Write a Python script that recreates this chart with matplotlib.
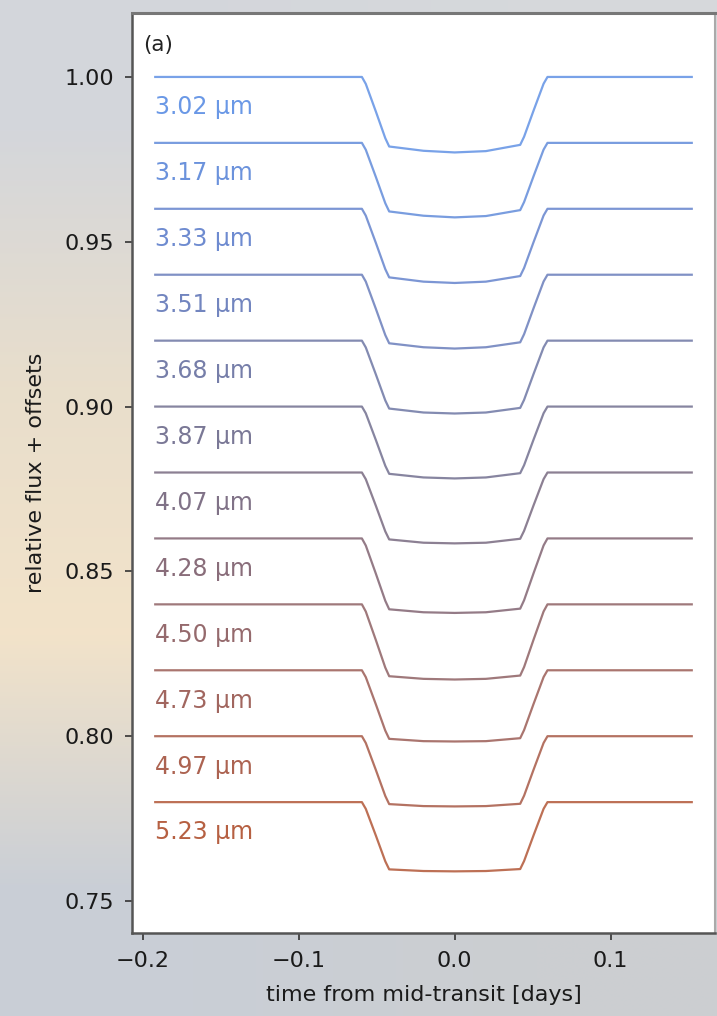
import numpy as np
import matplotlib
matplotlib.use("Agg")
import matplotlib.pyplot as plt

# Data
wavelengths = ["3.02", "3.17", "3.33", "3.51", "3.68", "3.87",
               "4.07", "4.28", "4.50", "4.73", "4.97", "5.23"]
offsets = [1.00, 0.98, 0.96, 0.94, 0.92, 0.90, 0.88, 0.86, 0.84, 0.82, 0.80, 0.78]

# out-of-transit span [days]
t_start = -0.192
t_end = 0.152

# ingress shape: time and fraction of the 2nd-contact depth
ingress_t = [-0.0595, -0.0570, -0.0505, -0.0445]
ingress_frac = [0.0, 0.10, 0.50, 0.88]

# in-transit depths at these times, per wavelength
bottom_t = [-0.042, -0.020, 0.000, 0.020, 0.042]
depths = [
    [0.0211, 0.0224, 0.0229, 0.0225, 0.0206],
    [0.0208, 0.0221, 0.0226, 0.0222, 0.0204],
    [0.0208, 0.0221, 0.0225, 0.0221, 0.0204],
    [0.0208, 0.0220, 0.0224, 0.0220, 0.0205],
    [0.0206, 0.0218, 0.0221, 0.0218, 0.0204],
    [0.0204, 0.0215, 0.0218, 0.0215, 0.0202],
    [0.0203, 0.0213, 0.0215, 0.0213, 0.0201],
    [0.0215, 0.0224, 0.0226, 0.0224, 0.0213],
    [0.0218, 0.0226, 0.0228, 0.0226, 0.0216],
    [0.0208, 0.0215, 0.0216, 0.0215, 0.0206],
    [0.0206, 0.0212, 0.0213, 0.0212, 0.0205],
    [0.0204, 0.0209, 0.0210, 0.0209, 0.0203],
]

colors = ["#6a98e6", "#6b92dc", "#6e8bd0", "#7285bf", "#767ea9", "#7a7896",
          "#807287", "#896d7a", "#956a6d", "#a1665f", "#ac6351", "#b66042"]

plt.rcParams['font.family'] = ['DejaVu Sans']

fig = plt.figure(figsize=(7.17, 10.16), dpi=100)

# textured backdrop behind the panel (soft gradient)
bg = fig.add_axes([0, 0, 1, 1], zorder=-10)
grid = np.array([
    [[0.83, 0.84, 0.86], [0.84, 0.85, 0.86]],
    [[0.91, 0.87, 0.80], [0.90, 0.87, 0.82]],
    [[0.95, 0.89, 0.79], [0.90, 0.87, 0.82]],
    [[0.79, 0.81, 0.84], [0.80, 0.81, 0.82]],
])
bg.imshow(grid, aspect='auto', interpolation='bilinear', extent=[0, 1, 0, 1])
bg.axis('off')

ax = fig.add_axes([0.1841, 0.0817, 0.9972 - 0.1841, 0.9872 - 0.0817])
ax.set_facecolor('white')

for i in range(len(wavelengths)):
    d = depths[i]
    t = [t_start]
    f = [0.0]
    # ingress
    for k in range(len(ingress_t)):
        t.append(ingress_t[k])
        f.append(ingress_frac[k] * d[0])
    # bottom
    for k in range(len(bottom_t)):
        t.append(bottom_t[k])
        f.append(d[k])
    # egress (mirror of ingress)
    for k in range(len(ingress_t) - 1, -1, -1):
        t.append(-ingress_t[k])
        f.append(ingress_frac[k] * d[-1])
    t.append(t_end)
    f.append(0.0)
    flux = offsets[i] - np.array(f)
    ax.plot(t, flux, color=colors[i], lw=1.6, alpha=0.9)
    ax.text(t_start, offsets[i] - 0.0092, wavelengths[i] + " µm", color=colors[i],
            fontsize=17, ha='left', va='center')

ax.text(0.019, 0.965, "(a)", transform=ax.transAxes, fontsize=15.5,
        color='#222222', ha='left', va='center')

ax.set_xlim(-0.2069, 0.1669)
ax.set_ylim(0.7403, 1.0194)
ax.set_xticks([-0.2, -0.1, 0.0, 0.1])
ax.set_yticks([0.75, 0.80, 0.85, 0.90, 0.95, 1.00])
ax.set_yticklabels(["0.75", "0.80", "0.85", "0.90", "0.95", "1.00"])
ax.set_xticklabels(["\u22120.2", "\u22120.1", "0.0", "0.1"])
ax.tick_params(axis='both', labelsize=16, length=5, width=1.2, color='#333333',
               labelcolor='#1a1a1a', pad=8)

ax.set_xlabel("time from mid-transit [days]", fontsize=16, color='#1a1a1a')
ax.set_ylabel("relative flux + offsets", fontsize=16, color='#1a1a1a')
ax.xaxis.set_label_coords(0.5, -0.056)
ax.yaxis.set_label_coords(-0.1475, 0.5)

ax.spines['left'].set_color('#555555')
ax.spines['left'].set_linewidth(1.8)
ax.spines['bottom'].set_color('#555555')
ax.spines['bottom'].set_linewidth(1.8)
ax.spines['top'].set_color('#777777')
ax.spines['top'].set_linewidth(2.2)
ax.spines['right'].set_color('#aaaaaa')
ax.spines['right'].set_linewidth(1.5)

fig.savefig("out.png", dpi=100)
